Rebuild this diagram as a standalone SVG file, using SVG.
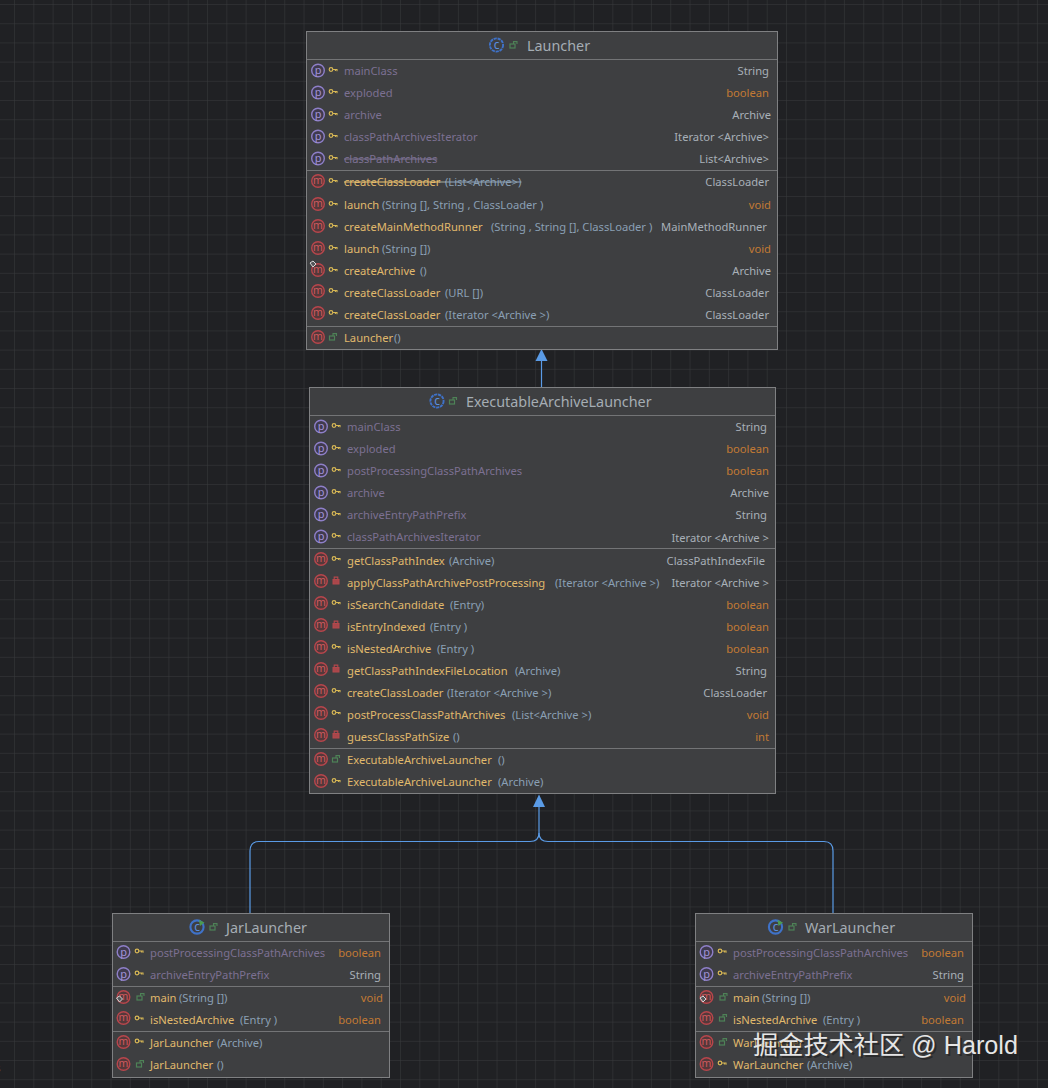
<svg xmlns="http://www.w3.org/2000/svg" width="1048" height="1088" viewBox="0 0 1048 1088">
<style>
text{font-family:"Noto Sans","Liberation Sans","Noto Sans CJK SC",sans-serif;font-size:11.2px}
.box{fill:#3e3f41;stroke:#7f8082;stroke-width:1}
.sep{stroke:#737476;stroke-width:1}
.title{font-size:14.35px;fill:#a5adb4}
.p{fill:#7c7092}.m{fill:#e0b96c}.a{fill:#8a9fb4}.t{fill:#a8b0b8}.o{fill:#c27a34}
.r{text-anchor:end}
.s{text-decoration:line-through}
.conn{fill:none;stroke:#5a9be6;stroke-width:1.2}
.head{fill:#5a9be6}
.wm{font-size:25.2px;fill:#e6e6e6;font-family:"Liberation Sans","Noto Sans CJK SC",sans-serif}
.ic{text-anchor:middle}
</style>
<defs>
<pattern id="grid" width="19.3" height="19.2" patternUnits="userSpaceOnUse" x="-4.3" y="-14.2">
<path d="M19.3 0V19.2M0 19.2H19.3" fill="none" stroke="#393b3d" stroke-width="1"/>
</pattern>
<g id="ip"><circle r="6.3" fill="#3f3a4e" stroke="#8e7fc8" stroke-width="1.4"/><text y="3.6" class="ic" font-size="11" style="font-size:11px" fill="#a294d8">p</text></g>
<g id="im"><circle r="6.3" fill="#55383a" stroke="#b8464c" stroke-width="1.4"/><text y="3.2" class="ic" style="font-size:10.5px" fill="#cf5a5e">m</text></g>
<g id="ic"><circle r="6.6" fill="none" stroke="#3f72c8" stroke-width="1.9" stroke-dasharray="3.2 .8"/><text y="3.8" class="ic" style="font-size:12px" fill="#5b8fe0">c</text></g>
<g id="ig"><circle r="6.6" fill="none" stroke="#3f72c8" stroke-width="2.1"/><path d="M2 -7l5.500 2.500-4.500 3.500z" fill="#4c9a50"/><text y="3.8" class="ic" style="font-size:12px" fill="#5b8fe0">c</text></g>
<g id="key"><circle cx="-2" r="1.8" fill="none" stroke="#d8b855" stroke-width="1.2"/><path d="M0 0H4V1.700M2.400 0V1.500" fill="none" stroke="#d8b855" stroke-width="1.1"/></g>
<g id="open"><rect x="-3.500" y="-1" width="5" height="4" fill="none" stroke="#4e8257" stroke-width="1.2"/><path d="M0 -1V-3.400H3.500V-1" fill="none" stroke="#4e8257" stroke-width="1.1"/></g>
<g id="lock"><rect x="-3" y="-1" width="6" height="4.500" fill="#a8474b" stroke="#b5484c" stroke-width="1"/><path d="M-1.800 -1V-3.400H1.800V-1" fill="none" stroke="#b5484c" stroke-width="1.1"/></g>
<g id="pin"><path d="M-3 -2 0 -4 3 -1 0 2z" fill="#55575a" stroke="#d8d8d8" stroke-width="1"/></g>
</defs>
<rect width="1048" height="1088" fill="#202124"/>
<rect width="1048" height="1088" fill="url(#grid)"/>
<text x="-5" y="1072" style="fill:#d8d8d8">s</text>

<g id="connectors">
<path class="conn" d="M541.500 387V360"/>
<path class="head" d="M541.500 349 535.500 361H547.500z"/>
<path class="conn" d="M539 806V833Q539 841.500 530 841.500H259Q250 841.500 250 851V913"/>
<path class="conn" d="M539 833Q539 841.500 548 841.500H824Q833 841.500 833 851V913"/>
<path class="head" d="M539 794.500 533 807H545z"/>
</g>

<g id="node-laucher">
<rect class="box" x="306.500" y="31.500" width="471" height="318"/>
<path class="sep" d="M307 59.500H777M307 170.500H777M307 326.500H777"/>
<use href="#ic" x="496.500" y="45"/><use href="#open" x="513.500" y="45"/>
<text class="title" x="527" y="50.500">Launcher</text>
<use href="#ip" x="318" y="70.500"/><use href="#key" x="333" y="69.500"/><text class="p" x="344" y="75">mainClass</text><text class="t r" x="769" y="75">String</text>
<use href="#ip" x="318" y="92.500"/><use href="#key" x="333" y="91.500"/><text class="p" x="344" y="97">exploded</text><text class="o r" x="769" y="97">boolean</text>
<use href="#ip" x="318" y="114.500"/><use href="#key" x="333" y="113.500"/><text class="p" x="344" y="119">archive</text><text class="t r" x="771" y="119">Archive</text>
<use href="#ip" x="318" y="136.500"/><use href="#key" x="333" y="135.500"/><text class="p" x="344" y="141">classPathArchivesIterator</text><text class="t r" x="769" y="141">Iterator &lt;Archive&gt;</text>
<use href="#ip" x="318" y="158.500"/><use href="#key" x="333" y="157.500"/><text class="p s" x="344" y="163">classPathArchives</text><text class="t r" x="769" y="163">List&lt;Archive&gt;</text>
<use href="#im" x="318" y="181"/><use href="#key" x="333" y="180.500"/><text class="m s" x="344" y="186">createClassLoader</text><path d="M439 182H446" stroke="#a9b0a0" stroke-width="1"/><text class="a s" x="445" y="186">(List&lt;Archive&gt;)</text><text class="t r" x="769" y="186">ClassLoader</text>
<use href="#im" x="318" y="204"/><use href="#key" x="333" y="203.500"/><text class="m" x="344" y="209">launch</text><text class="a" x="382" y="209">(String [], String , ClassLoader )</text><text class="o r" x="771" y="209">void</text>
<use href="#im" x="318" y="226"/><use href="#key" x="333" y="225.500"/><text class="m" x="344" y="231">createMainMethodRunner</text><text class="a" x="491" y="231">(String , String [], ClassLoader )</text><text class="t r" x="767" y="231">MainMethodRunner</text>
<use href="#im" x="318" y="248"/><use href="#key" x="333" y="247.500"/><text class="m" x="344" y="253">launch</text><text class="a" x="382" y="253">(String [])</text><text class="o r" x="771" y="253">void</text>
<use href="#im" x="318" y="270"/><use href="#key" x="333" y="269.500"/><use href="#pin" x="313" y="265"/><text class="m" x="344" y="275">createArchive</text><text class="a" x="420" y="275">()</text><text class="t r" x="771" y="275">Archive</text>
<use href="#im" x="318" y="291"/><use href="#key" x="333" y="290.500"/><text class="m" x="344" y="297">createClassLoader</text><text class="a" x="445" y="297">(URL [])</text><text class="t r" x="769" y="297">ClassLoader</text>
<use href="#im" x="318" y="313"/><use href="#key" x="333" y="312.500"/><text class="m" x="344" y="319">createClassLoader</text><text class="a" x="445" y="319">(Iterator &lt;Archive &gt;)</text><text class="t r" x="769" y="319">ClassLoader</text>
<use href="#im" x="318" y="337"/><use href="#open" x="333" y="337"/><text class="m" x="344" y="342">Launcher</text><text class="a" x="394" y="342">()</text>
</g>

<g id="node-executable">
<rect class="box" x="309.500" y="387.500" width="466" height="406"/>
<path class="sep" d="M310 415.500H775M310 548.500H775M310 748.500H775"/>
<use href="#ic" x="437" y="401"/><use href="#open" x="453" y="401"/>
<text class="title" x="466" y="406.500">ExecutableArchiveLauncher</text>
<use href="#ip" x="321" y="426.500"/><use href="#key" x="336" y="425.500"/><text class="p" x="347" y="431">mainClass</text><text class="t r" x="767" y="431">String</text>
<use href="#ip" x="321" y="448.500"/><use href="#key" x="336" y="447.500"/><text class="p" x="347" y="453">exploded</text><text class="o r" x="769" y="453">boolean</text>
<use href="#ip" x="321" y="470.500"/><use href="#key" x="336" y="469.500"/><text class="p" x="347" y="475">postProcessingClassPathArchives</text><text class="o r" x="769" y="475">boolean</text>
<use href="#ip" x="321" y="492.500"/><use href="#key" x="336" y="491.500"/><text class="p" x="347" y="497">archive</text><text class="t r" x="769" y="497">Archive</text>
<use href="#ip" x="321" y="514.500"/><use href="#key" x="336" y="513.500"/><text class="p" x="347" y="519">archiveEntryPathPrefix</text><text class="t r" x="767" y="519">String</text>
<use href="#ip" x="321" y="536.500"/><use href="#key" x="336" y="535.500"/><text class="p" x="347" y="541">classPathArchivesIterator</text><text class="t r" x="769" y="542">Iterator &lt;Archive &gt;</text>
<use href="#im" x="321" y="559"/><use href="#key" x="336" y="558.500"/><text class="m" x="347" y="565">getClassPathIndex</text><text class="a" x="449" y="565">(Archive)</text><text class="t r" x="765" y="565">ClassPathIndexFile</text>
<use href="#im" x="321" y="581"/><use href="#lock" x="336" y="580.500"/><text class="m" x="347" y="587">applyClassPathArchivePostProcessing</text><text class="a" x="555" y="587">(Iterator &lt;Archive &gt;)</text><text class="t r" x="769" y="587">Iterator &lt;Archive &gt;</text>
<use href="#im" x="321" y="603"/><use href="#key" x="336" y="602.500"/><text class="m" x="347" y="609">isSearchCandidate</text><text class="a" x="450" y="609">(Entry)</text><text class="o r" x="769" y="609">boolean</text>
<use href="#im" x="321" y="625"/><use href="#lock" x="336" y="624.500"/><text class="m" x="347" y="631">isEntryIndexed</text><text class="a" x="430" y="631">(Entry )</text><text class="o r" x="769" y="631">boolean</text>
<use href="#im" x="321" y="647"/><use href="#key" x="336" y="646.500"/><text class="m" x="347" y="653">isNestedArchive</text><text class="a" x="437" y="653">(Entry )</text><text class="o r" x="769" y="653">boolean</text>
<use href="#im" x="321" y="669"/><use href="#lock" x="336" y="668.500"/><text class="m" x="347" y="675">getClassPathIndexFileLocation</text><text class="a" x="515" y="675">(Archive)</text><text class="t r" x="767" y="675">String</text>
<use href="#im" x="321" y="691"/><use href="#key" x="336" y="690.500"/><text class="m" x="347" y="697">createClassLoader</text><text class="a" x="447" y="697">(Iterator &lt;Archive &gt;)</text><text class="t r" x="767" y="697">ClassLoader</text>
<use href="#im" x="321" y="713"/><use href="#key" x="336" y="712.500"/><text class="m" x="347" y="719">postProcessClassPathArchives</text><text class="a" x="512" y="719">(List&lt;Archive &gt;)</text><text class="o r" x="769" y="719">void</text>
<use href="#im" x="321" y="735"/><use href="#lock" x="336" y="734.500"/><text class="m" x="347" y="741">guessClassPathSize</text><text class="a" x="453" y="741">()</text><text class="o r" x="769" y="741">int</text>
<use href="#im" x="321" y="759"/><use href="#open" x="336" y="759"/><text class="m" x="347" y="764">ExecutableArchiveLauncher</text><text class="a" x="498" y="764">()</text>
<use href="#im" x="321" y="781"/><use href="#key" x="336" y="780.500"/><text class="m" x="347" y="786">ExecutableArchiveLauncher</text><text class="a" x="498" y="786">(Archive)</text>
</g>

<g id="node-jar">
<rect class="box" x="112.500" y="913.500" width="277" height="164"/>
<path class="sep" d="M113 941.500H389M113 986.500H389M113 1031.500H389"/>
<use href="#ig" x="197" y="927"/><use href="#open" x="213.500" y="927"/>
<text class="title" x="226" y="932.500">JarLauncher</text>
<use href="#ip" x="123.500" y="952"/><use href="#key" x="139" y="951"/><text class="p" x="150" y="957">postProcessingClassPathArchives</text><text class="o r" x="381" y="957">boolean</text>
<use href="#ip" x="123.500" y="974"/><use href="#key" x="139" y="973"/><text class="p" x="150" y="979">archiveEntryPathPrefix</text><text class="t r" x="381" y="979">String</text>
<use href="#im" x="123.500" y="997"/><use href="#open" x="140.500" y="997"/><use href="#pin" x="119.500" y="1000"/><text class="m" x="150" y="1002">main</text><text class="a" x="179" y="1002">(String [])</text><text class="o r" x="383" y="1002">void</text>
<use href="#im" x="123.500" y="1018"/><use href="#key" x="139" y="1018"/><text class="m" x="150" y="1024">isNestedArchive</text><text class="a" x="240" y="1024">(Entry )</text><text class="o r" x="381" y="1024">boolean</text>
<use href="#im" x="123.500" y="1042"/><use href="#key" x="139" y="1041"/><text class="m" x="150" y="1047">JarLauncher</text><text class="a" x="217" y="1047">(Archive)</text>
<use href="#im" x="123.500" y="1064"/><use href="#open" x="140" y="1064"/><text class="m" x="150" y="1069">JarLauncher</text><text class="a" x="217" y="1069">()</text>
</g>

<g id="node-war">
<rect class="box" x="695.500" y="913.500" width="277" height="164"/>
<path class="sep" d="M696 941.500H972M696 986.500H972M696 1031.500H972"/>
<use href="#ig" x="775.500" y="927"/><use href="#open" x="792.500" y="927"/>
<text class="title" x="805" y="932.500">WarLauncher</text>
<use href="#ip" x="706.500" y="952"/><use href="#key" x="722" y="951"/><text class="p" x="733" y="957">postProcessingClassPathArchives</text><text class="o r" x="964" y="957">boolean</text>
<use href="#ip" x="706.500" y="974"/><use href="#key" x="722" y="973"/><text class="p" x="733" y="979">archiveEntryPathPrefix</text><text class="t r" x="964" y="979">String</text>
<use href="#im" x="706.500" y="997"/><use href="#open" x="723.500" y="997"/><use href="#pin" x="703" y="1000"/><text class="m" x="733" y="1002">main</text><text class="a" x="762" y="1002">(String [])</text><text class="o r" x="966" y="1002">void</text>
<use href="#im" x="706.500" y="1018"/><use href="#open" x="723" y="1018"/><text class="m" x="733" y="1024">isNestedArchive</text><text class="a" x="823" y="1024">(Entry )</text><text class="o r" x="964" y="1024">boolean</text>
<use href="#im" x="706.500" y="1042"/><use href="#open" x="723" y="1042"/><text class="m" x="733" y="1047">WarLauncher</text>
<use href="#im" x="706.500" y="1064"/><use href="#key" x="722" y="1063"/><text class="m" x="733" y="1069">WarLauncher</text><text class="a" x="807" y="1069">(Archive)</text>
</g>

<text class="wm" x="755" y="1056" style="fill:#222;opacity:.7">掘金技术社区 @ Harold</text>
<text class="wm" x="753" y="1054">掘金技术社区 @ Harold</text>
</svg>
